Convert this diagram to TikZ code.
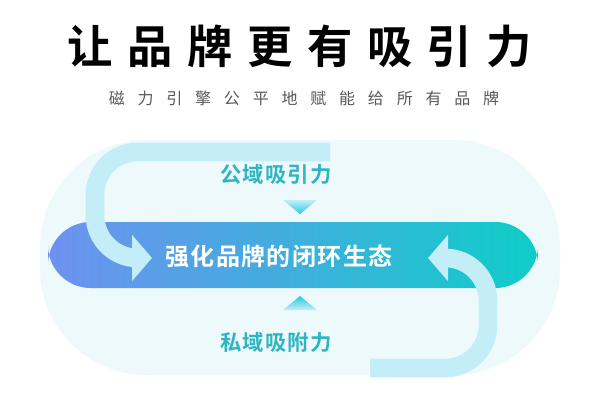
\documentclass[tikz,border=0pt]{standalone}
\usepackage{fontspec}
\usetikzlibrary{arrows.meta}
\newfontfamily\cjk{Noto Sans CJK SC}
\newfontfamily\cjkb{Noto Sans CJK SC Bold}
\definecolor{teal1}{HTML}{2DB6C2}
\definecolor{flow}{HTML}{C4EEF7}
\definecolor{halo}{HTML}{EEF9FC}
\begin{document}
\begin{tikzpicture}[x=0.75pt,y=-0.75pt,
  lbl/.style={font=\cjkb\fontsize{16}{16}\selectfont\addfontfeature{LetterSpace=5}, text=teal1, inner sep=0},
  flowline/.style={draw=flow, line width=14pt, rounded corners=32, -{Triangle[length=15pt,width=34pt]}}]
\useasboundingbox (0,0) rectangle (600,400);
\fill[white] (0,0) rectangle (600,400);
\fill[halo, rounded corners=80] (40,140) rectangle (560,375);
\begin{scope}
\clip[rounded corners=32] (48,222) rectangle (538,288);
\shade[left color={rgb,255:red,110;green,145;blue,240}, middle color={rgb,255:red,10;green,170;blue,240}, right color={rgb,255:red,15;green,205;blue,200}] (48,222) rectangle (538,288);
\end{scope}
\node[font=\cjkb\fontsize{34}{34}\selectfont\addfontfeature{LetterSpace=32}, inner sep=0] (title) at (300,46) {让品牌更有吸引力};
\node[font=\cjk\fontsize{12}{12}\selectfont\addfontfeature{LetterSpace=80}, text=black!65, inner sep=0] (sub) at (304,98) {磁力引擎公平地赋能给所有品牌};
\node[font=\cjkb\fontsize{18}{18}\selectfont\addfontfeature{LetterSpace=6}, text=white, inner sep=0] (core) at (279,256) {强化品牌的闭环生态};
\node[lbl] (pub) at (276,174) {公域吸引力};
\node[lbl] (pri) at (276,342) {私域吸附力};
\coordinate (ls) at (330,152);
\coordinate (rs) at (370,368);
\coordinate (le) at (152,258);
\coordinate (re) at (428,258);
\draw[flowline] (ls) -- (95,152) -- (95,258) -- (le);
\draw[flowline] (rs) -- (488,368) -- (488,258) -- (re);
\shade[top color=flow, bottom color={rgb,255:red,40;green,200;blue,225}] (283,200) -- (317,200) -- (300,214) -- cycle;
\shade[bottom color=flow, top color={rgb,255:red,40;green,200;blue,225}] (283,310) -- (317,310) -- (300,296) -- cycle;
\end{tikzpicture}
\end{document}
